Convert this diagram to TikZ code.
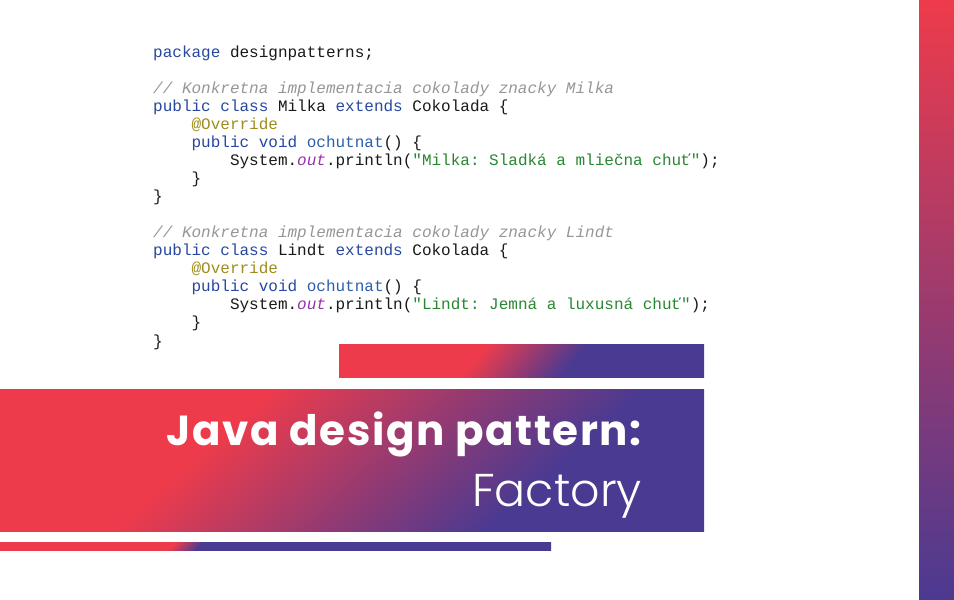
\documentclass[tikz,border=0pt]{standalone}
\usepackage{fontspec}
\setmonofont{Liberation Mono}
\newfontfamily\titleboldfont{Poppins Bold}[LetterSpace=3.8]
\newfontfamily\titlelightfont{Poppins Light}
\definecolor{cred}{RGB}{238,59,75}
\definecolor{cpurple}{RGB}{75,58,145}
\definecolor{jkwc}{RGB}{40,72,160}
\definecolor{jfnc}{RGB}{45,95,170}
\definecolor{jcmc}{RGB}{150,150,150}
\definecolor{janc}{RGB}{160,140,30}
\definecolor{jstc}{RGB}{40,135,50}
\definecolor{joutc}{RGB}{150,50,170}
\definecolor{jtxc}{RGB}{25,25,25}
\newcommand\jkw[1]{\textcolor{jkwc}{#1}}
\newcommand\jfn[1]{\textcolor{jfnc}{#1}}
\newcommand\jcm[1]{\textcolor{jcmc}{\itshape #1}}
\newcommand\jan[1]{\textcolor{janc}{#1}}
\newcommand\jst[1]{\textcolor{jstc}{#1}}
\newcommand\jout[1]{\textcolor{joutc}{\itshape #1}}
\tikzset{
  codeline/.style={anchor=base west, inner sep=0pt, text=jtxc,
    font=\ttfamily\fontsize{16}{18}\selectfont},
  titleA/.style={anchor=base east, inner sep=0pt, text=white,
    font=\titleboldfont\fontsize{42}{48}\selectfont},
  titleB/.style={anchor=base east, inner sep=0pt, text=white,
    font=\titlelightfont\fontsize{46}{52}\selectfont},
}
\begin{document}
\begin{tikzpicture}[x=1pt,y=-1pt]
\useasboundingbox (0,0) rectangle (954,600);
\fill[white] (0,0) rectangle (954,600);

% right vertical bar
\shade[top color=cred, bottom color=cpurple] (919,0) rectangle (954,600);

% small top bar
\begin{scope}
  \clip (339,344) rectangle (704,377);
  \begin{scope}[transform canvas={shift={(524,360.5)},rotate=-40}]
    \fill[cred] (-800,-800) rectangle (-37,800);
    \shade[left color=cred, right color=cpurple] (-38,-800) rectangle (38,800);
    \fill[cpurple] (37,-800) rectangle (800,800);
  \end{scope}
\end{scope}

% main banner
\begin{scope}
  \clip (0,389) rectangle (704,531);
  \begin{scope}[transform canvas={shift={(377,460)},rotate=-48}]
    \fill[cred] (-1200,-1200) rectangle (-124,1200);
    \shade[left color=cred, right color=cpurple] (-125,-1200) rectangle (125,1200);
    \fill[cpurple] (124,-1200) rectangle (1200,1200);
  \end{scope}
\end{scope}

% thin bottom bar
\begin{scope}
  \clip (0,542) rectangle (551,550);
  \begin{scope}[transform canvas={shift={(186,546)},rotate=-45}]
    \fill[cred] (-800,-800) rectangle (-9,800);
    \shade[left color=cred, right color=cpurple] (-10,-800) rectangle (10,800);
    \fill[cpurple] (9,-800) rectangle (800,800);
  \end{scope}
\end{scope}

% title
\node[titleA] (t1) at (642,445) {Java design pattern:};
\node[titleB] (t2) at (642,506) {Factory};

% code
\node[codeline] (l0) at (153,57.0) {\jkw{package} designpatterns;};
\node[codeline] (l2) at (153,93.1) {\jcm{// Konkretna implementacia cokolady znacky Milka}};
\node[codeline] (l3) at (153,111.2) {\jkw{public} \jkw{class} Milka \jkw{extends} Cokolada \{};
\node[codeline] (l4) at (191.4,129.2) {\jan{@Override}};
\node[codeline] (l5) at (191.4,147.3) {\jkw{public} \jkw{void} \jfn{ochutnat}() \{};
\node[codeline] (l6) at (229.8,165.4) {System.\jout{out}.println(\jst{"Milka: Sladká a mliečna chuť"});};
\node[codeline] (l7) at (191.4,183.4) {\}};
\node[codeline] (l8) at (153,201.5) {\}};
\node[codeline] (l10) at (153,237.6) {\jcm{// Konkretna implementacia cokolady znacky Lindt}};
\node[codeline] (l11) at (153,255.7) {\jkw{public} \jkw{class} Lindt \jkw{extends} Cokolada \{};
\node[codeline] (l12) at (191.4,273.7) {\jan{@Override}};
\node[codeline] (l13) at (191.4,291.8) {\jkw{public} \jkw{void} \jfn{ochutnat}() \{};
\node[codeline] (l14) at (229.8,309.9) {System.\jout{out}.println(\jst{"Lindt: Jemná a luxusná chuť"});};
\node[codeline] (l15) at (191.4,327.9) {\}};
\node[codeline] (l16) at (153,346.0) {\}};
\end{tikzpicture}
\end{document}
